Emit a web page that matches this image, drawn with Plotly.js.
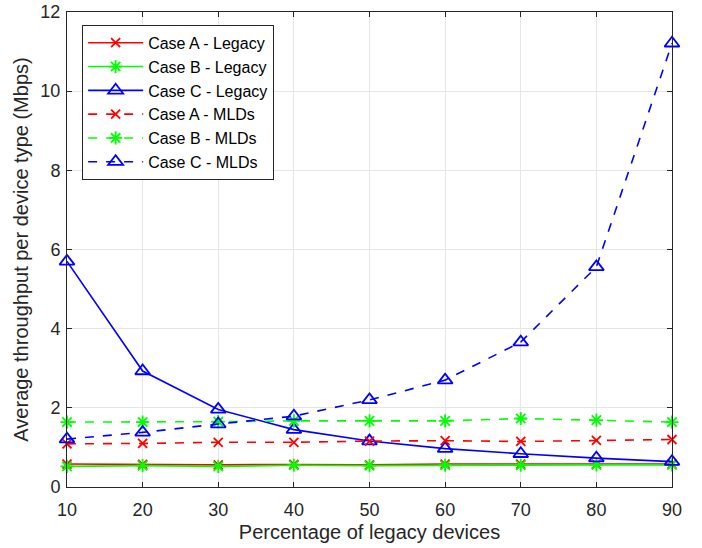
<!DOCTYPE html>
<html>
<head>
<meta charset="utf-8">
<script src="https://cdn.plot.ly/plotly-3.0.1.min.js"></script>
<style>html,body{margin:0;padding:0;background:#fff;}#chart{width:702px;height:548px;}</style>
</head>
<body>
<div id="chart"></div>
<script>
const percentLegacy = [10, 20, 30, 40, 50, 60, 70, 80, 90];
const caseALegacy = [0.58, 0.57, 0.56, 0.57, 0.56, 0.58, 0.58, 0.58, 0.58];
const caseBLegacy = [0.52, 0.54, 0.52, 0.55, 0.54, 0.55, 0.55, 0.56, 0.56];
const caseCLegacy = [5.70, 2.93, 1.96, 1.45, 1.16, 0.97, 0.84, 0.73, 0.64];
const caseAMLDs = [1.09, 1.10, 1.13, 1.13, 1.16, 1.17, 1.15, 1.18, 1.20];
const caseBMLDs = [1.64, 1.64, 1.65, 1.67, 1.67, 1.67, 1.73, 1.69, 1.64];
const caseCMLDs = [1.21, 1.38, 1.59, 1.79, 2.20, 2.70, 3.66, 5.56, 11.21];
const seriesNames = ["Case A - Legacy", "Case B - Legacy", "Case C - Legacy", "Case A - MLDs", "Case B - MLDs", "Case C - MLDs"];

const RED = "#ff0000", GREEN = "#00ff00", BLUE = "#0000ff";
function mk(y, name, color, symbol, size, dash) {
  return {
    x: percentLegacy, y: y, name: name, type: "scatter", mode: "lines+markers", cliponaxis: false,
    line: {color: color, width: 1.6, dash: dash},
    marker: {symbol: symbol, size: size, color: color, line: {color: color, width: 1.8}}
  };
}
const traces = [
  mk(caseALegacy, seriesNames[0], RED, "x-thin-open", 9, "solid"),
  mk(caseBLegacy, seriesNames[1], GREEN, "asterisk-open", 11, "solid"),
  mk(caseCLegacy, seriesNames[2], BLUE, "triangle-up-open", 13, "solid"),
  mk(caseAMLDs, seriesNames[3], RED, "x-thin-open", 9, "dash"),
  mk(caseBMLDs, seriesNames[4], GREEN, "asterisk-open", 11, "dash"),
  mk(caseCMLDs, seriesNames[5], BLUE, "triangle-up-open", 13, "dash")
];

const layout = {
  width: 702, height: 548,
  margin: {l: 67, r: 30, t: 12, b: 61},
  paper_bgcolor: "#fff", plot_bgcolor: "#fff",
  font: {family: "Liberation Sans, Arial, sans-serif", color: "#262626"},
  showlegend: true,
  legend: {
    x: 0.025, y: 0.973, xanchor: "left", yanchor: "top",
    bgcolor: "#fff", bordercolor: "#262626", borderwidth: 1,
    font: {size: 16, color: "#000"}, itemwidth: 55, tracegroupgap: 0
  },
  xaxis: {
    range: [10, 90], tickvals: percentLegacy, ticks: "inside", ticklen: 5, tickcolor: "#262626",
    showline: true, linecolor: "#262626", linewidth: 1, mirror: "ticks",
    showgrid: true, gridcolor: "#e6e6e6", zeroline: false,
    tickfont: {size: 18, color: "#262626"}, ticklabelstandoff: 6,
    title: {text: "Percentage of legacy devices", font: {size: 20, color: "#262626"}, standoff: 6}
  },
  yaxis: {
    range: [0, 12], tickvals: [0, 2, 4, 6, 8, 10, 12], ticks: "inside", ticklen: 5, tickcolor: "#262626",
    showline: true, linecolor: "#262626", linewidth: 1, mirror: "ticks",
    showgrid: true, gridcolor: "#e6e6e6", zeroline: false,
    tickfont: {size: 18, color: "#262626"}, ticklabelstandoff: 2,
    title: {text: "Average throughput per device type (Mbps)", font: {size: 20, color: "#262626"}, standoff: 6}
  }
};
Plotly.newPlot("chart", traces, layout, {displayModeBar: false, staticPlot: true});
</script>
</body>
</html>
